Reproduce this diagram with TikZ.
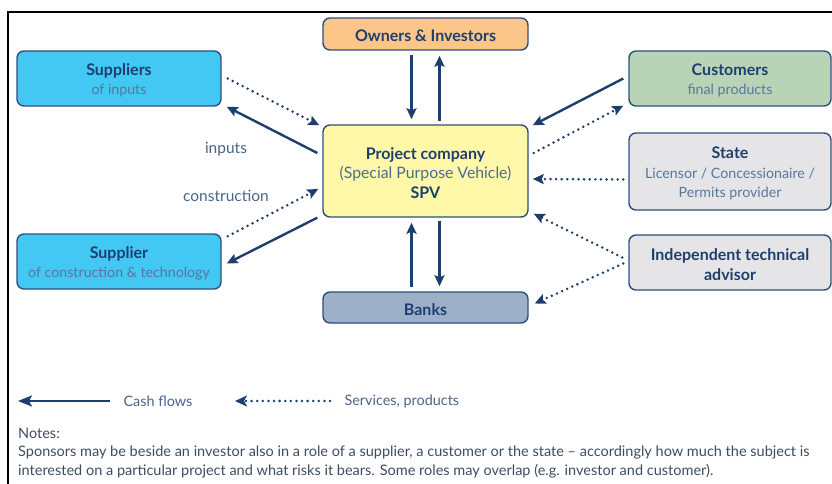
\documentclass[tikz,border=0pt]{standalone}
\usepackage{fontspec}
\setmainfont{Lato}
\usetikzlibrary{arrows.meta}

\definecolor{navy}{HTML}{1E3F6E}
\definecolor{edge}{HTML}{2E4F7C}
\definecolor{subtxt}{HTML}{56779E}
\definecolor{notetxt}{HTML}{3D4C60}
\definecolor{orangefill}{HTML}{FDC689}
\definecolor{cyanfill}{HTML}{43C8F3}
\definecolor{greenfill}{HTML}{B9D3B7}
\definecolor{yellowfill}{HTML}{FFF8A9}
\definecolor{greyfill}{HTML}{E5E5E7}
\definecolor{bankfill}{HTML}{9EAFCA}

\tikzset{
  box/.style={draw=edge,line width=1.4pt,rounded corners=7pt,align=center,text=navy,inner sep=0pt,
    font=\fontsize{15}{19.5}\selectfont},
  cash/.style={draw=navy,line width=2.4pt,-{Stealth[length=11pt,width=10pt,inset=2pt]}},
  serv/.style={draw=navy,line width=2.8pt,line cap=round,dash pattern=on 0pt off 5.6pt,-{Stealth[length=11pt,width=10pt,inset=2pt]}},
  sub/.style={font=\fontsize{15.5}{18}\selectfont,text=subtxt!85!black},
  leg/.style={font=\fontsize{14.4}{18}\selectfont,text=subtxt!85!black,anchor=west},
}
\newcommand{\ttl}[1]{{\fontsize{16}{19.5}\selectfont\bfseries\rule{0pt}{15.8pt}#1}}
\newcommand{\sbt}[1]{{\fontsize{14.2}{19.5}\selectfont\color{subtxt}#1}}

\begin{document}
\begin{tikzpicture}[x=1pt,y=1pt]
  \useasboundingbox (0,0) rectangle (832,-484);
  \draw[line width=1.5pt] (8,-500) -- (8,-12) -- (850,-12);

  % boxes
  \node[box,fill=orangefill,minimum width=205pt,minimum height=32pt] (own) at (425.5,-34) {\ttl{Owners \& Investors}};
  \node[box,fill=cyanfill,minimum width=204pt,minimum height=55pt] (sup) at (119,-78.5) {\ttl{Suppliers}\\\sbt{of inputs}};
  \node[box,fill=greenfill,minimum width=202pt,minimum height=55pt] (cus) at (730,-78.5) {\ttl{Customers}\\\sbt{final products}};
  \node[box,fill=yellowfill,minimum width=205pt,minimum height=92pt] (spv) at (425.5,-171) {\ttl{Project company}\\{\fontsize{15.8}{19.5}\selectfont\color{subtxt!80!navy}(Special Purpose Vehicle)}\\\ttl{SPV}};
  \node[box,fill=greyfill,minimum width=202pt,minimum height=77pt] (sta) at (730,-171.5) {\ttl{State}\\\sbt{Licensor / Concessionaire /}\\\sbt{Permits provider}};
  \node[box,fill=cyanfill,minimum width=204pt,minimum height=55pt] (con) at (119,-261.5) {\ttl{Supplier}\\\sbt{of construction \& technology}};
  \node[box,fill=greyfill,minimum width=202pt,minimum height=55pt] (adv) at (730,-262.5) {\ttl{Independent technical}\\\ttl{advisor}};
  \node[box,fill=bankfill,minimum width=205pt,minimum height=31pt] (bnk) at (425.5,-307.5) {\ttl{Banks}};

  % flows
  \draw[cash] ([shift={(-14,-4)}]own.south) -- ([shift={(-14,5)}]spv.north);
  \draw[cash] ([shift={(14,3)}]spv.north) -- ([shift={(14,-5)}]own.south);
  \draw[cash] ([shift={(-14,4)}]bnk.north) -- ([shift={(-14,-5)}]spv.south);
  \draw[cash] ([shift={(14,-3)}]spv.south) -- ([shift={(14,5)}]bnk.north);
  \draw[serv] ([shift={(6,0)}]sup.east) -- ([shift={(-3,-1)}]spv.north west);
  \draw[cash] ([shift={(-5,18)}]spv.west) -- ([shift={(5,0)}]sup.south east);
  \draw[serv] ([shift={(6,-3)}]con.north east) -- ([shift={(-4,-18)}]spv.west);
  \draw[cash] ([shift={(-5,0)}]spv.south west) -- ([shift={(5,-2)}]con.east);
  \draw[cash] ([shift={(-5,0)}]cus.west) -- ([shift={(4,-1)}]spv.north east);
  \draw[serv] ([shift={(5,18)}]spv.east) -- ([shift={(-5,1)}]cus.south west);
  \draw[serv] ([shift={(-5,-8)}]sta.west) -- ([shift={(4,-8)}]spv.east);
  \draw[serv] ([shift={(-6,5)}]adv.west) -- ([shift={(5,4)}]spv.south east);
  \draw[serv] ([shift={(-5,-1)}]adv.west) -- ([shift={(6,4)}]bnk.east);

  \node[sub] (inp) at (226,-149) {inputs};
  \node[sub] (cst) at (226,-196) {construction};

  % legend
  \node[leg] (cflow) at (120,-401) {Cash flows};
  \coordinate (cend) at (18,-401);
  \draw[cash,-{Stealth[length=14pt,width=11pt,inset=3pt]}] ([xshift=-10pt]cflow.west) -- (cend);
  \node[leg] (sflow) at (341,-401) {Services, products};
  \coordinate (send) at (235,-401);
  \draw[serv,-{Stealth[length=12pt,width=11pt,inset=3pt]}] ([xshift=-11pt]sflow.west) -- (send);

  % notes
  \node[anchor=north west,align=left,inner sep=0pt,text=notetxt,font=\fontsize{14.5}{18.3}\selectfont] (notes) at (18,-428)
    {Notes:\\
     Sponsors may be beside an investor also in a role of a supplier, a customer or the state -- accordingly how much the subject is\\
     interested on a particular project and what risks it bears. Some roles may overlap (e.g. investor and customer).};
\end{tikzpicture}
\end{document}
